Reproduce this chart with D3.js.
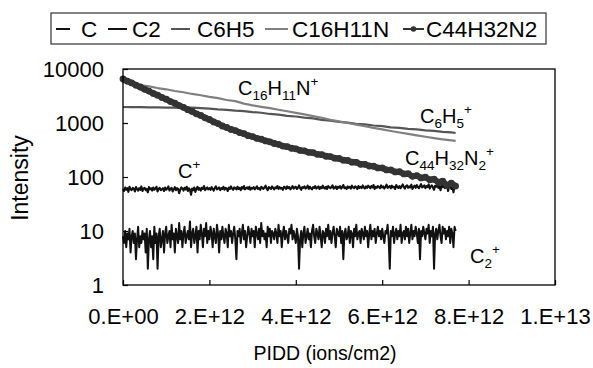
<!DOCTYPE html>
<html><head><meta charset="utf-8">
<script src="https://cdn.jsdelivr.net/npm/d3@7"></script>
<style>
body{margin:0;background:#fff}
text{font-family:Arial,"Liberation Sans",sans-serif;fill:#000}
</style>
</head><body><svg id="chart" width="593" height="368"></svg>
<script>
// ---------------- data ----------------
const seriesNames = ["C", "C2", "C6H5", "C16H11N", "C44H32N2"];

// noisy series sampled every 0.025E+12 ions/cm2, from 0 to 7.7E+12
const noisyStep = 2.5e10;
const cValues = [
 60,55,64,58,62,53,66,59,57,63,61,54,65,60,56,62,58,67,55,61,
 63,57,60,52,65,59,62,56,64,58,61,66,54,60,63,57,59,62,55,64,
 58,61,67,56,60,63,54,59,65,57,62,60,50,58,64,61,56,63,59,66,
 55,62,58,47,61,57,64,53,60,66,58,62,56,63,60,68,57,61,64,59,
 62,58,65,60,56,63,67,59,61,64,57,62,60,66,58,63,61,55,64,60,
 67,61,58,64,62,59,66,60,63,57,65,61,68,59,62,64,60,66,58,63,
 61,65,59,63,67,60,62,58,66,63,60,64,69,61,57,65,62,60,67,63,
 59,64,62,68,60,65,61,63,58,66,64,60,67,62,65,59,63,68,61,64,
 66,60,63,70,62,58,65,63,67,61,64,69,60,66,62,59,65,63,68,61,
 64,67,60,65,62,69,63,61,66,60,68,64,62,65,70,61,63,67,60,66,
 63,68,61,65,71,62,64,60,67,63,66,61,69,64,62,67,65,60,68,63,
 66,62,70,64,61,67,63,69,65,62,68,64,71,60,66,63,68,65,62,70,
 64,67,61,66,72,63,65,68,62,69,64,66,60,71,65,63,68,62,67,73,
 65,61,68,70,63,67,64,72,60,66,69,63,71,65,62,68,74,64,66,70,
 62,68,65,73,61,67,70,64,58,69,66,72,63,68,57,70,65,74,62,67,
 71,55,68,73,60,66,52,70,67
];
const c2Values = [
 8,6,10,5,9,7,11,4,8,10,6,9,3,7,12,5,8,6,10,7,
 9,4,11,2,7,10,5,8,3,12,6,9,2,8,11,5,7,10,4,9,
 12,6,8,10,5,13,7,9,4,11,8,6,14,7,10,5,9,12,6,8,
 10,7,15,5,9,11,6,8,12,4,10,7,13,9,5,11,8,14,6,10,
 7,12,9,5,11,8,6,13,9,4,10,7,12,8,6,11,9,5,13,8,
 10,6,9,12,7,3,10,8,11,6,9,13,7,10,5,8,12,9,6,11,
 8,10,5,12,9,7,11,6,14,8,10,7,9,5,12,8,11,6,10,9,
 7,11,9,6,13,8,10,5,9,12,7,10,8,6,11,9,13,7,10,8,
 6,11,8,2,7,10,5,9,12,6,8,11,7,9,5,10,13,8,6,11,
 9,7,12,8,5,10,9,6,11,8,13,7,10,6,9,12,8,5,11,9,
 8,12,6,10,3,9,11,7,8,12,6,10,9,5,11,8,13,7,9,10,
 6,11,9,7,12,8,10,5,9,13,7,10,8,11,6,9,12,8,10,7,
 11,8,6,10,9,13,7,2,10,8,12,6,9,11,7,10,8,13,6,9,
 10,7,12,8,11,6,9,13,7,10,8,12,9,6,11,3,10,8,12,9,
 7,11,9,13,6,10,8,12,2,9,11,7,10,13,8,6,12,9,11,7,
 10,8,12,6,11,9,5,12,10
];

// smoother series, dose in units of 1E+12 ions/cm2
const smoothDose = [0,0.2,0.4,0.6,0.8,1.0,1.2,1.4,1.6,1.8,
 2.0,2.2,2.4,2.6,2.8,3.0,3.2,3.4,3.6,3.8,
 4.0,4.2,4.4,4.6,4.8,5.0,5.2,5.4,5.6,5.8,
 6.0,6.2,6.4,6.6,6.8,7.0,7.2,7.4,7.6,7.7];
const c6h5Values = [
 1980,1960,1975,1940,1955,1925,1935,1905,1920,1885,
 1850,1790,1755,1690,1660,1595,1550,1470,1430,1360,
 1320,1255,1215,1145,1110,1050,1015,965,942,898,
 875,832,812,778,762,730,715,684,670,653
];
const c16h11nValues = [
 5750,5420,5050,4780,4440,4210,3920,3710,3450,3270,
 3040,2880,2670,2540,2290,2120,1990,1880,1760,1650,
 1540,1440,1340,1250,1150,1075,1000,935,870,815,
 760,712,668,628,590,556,525,498,475,465
];

// C44H32N2 sampled every 0.1E+12 ions/cm2
const c44Step = 1e11;
const c44h32n2Values = [
 6530,5960,5520,5010,4640,4210,3900,3530,3280,2970,
 2760,2490,2320,2100,1950,1765,1640,1480,1380,1245,
 1160,1045,975,880,826,760,724,665,633,582,
 560,520,501,466,449,417,402,374,364,341,
 333,311,305,286,282,263,259,242,239,223,
 221,205,203,188,187,172,172,160,158,147,
 147,135,135,124,125,114,115,103,106,96,
 99,89,91,80,84,70,77,68
];

const xTicks = [0, 2e12, 4e12, 6e12, 8e12, 1e13];
const xTickLabels = ["0.E+00","2.E+12","4.E+12","6.E+12","8.E+12","1.E+13"];
const yTicks = [1, 10, 100, 1000, 10000];
const yTickLabels = ["1","10","100","1000","10000"];

// ---------------- chart ----------------
const svg = d3.select("#chart");
const L = 123, R = 555, T = 69, B = 285;
const FONT = "Arial, 'Liberation Sans', sans-serif";

const x = d3.scaleLinear().domain([0, 1e13]).range([L, R]);
const y = d3.scaleLog().domain([1, 10000]).range([B, T]);

const series = [
  {name:"C", pts: cValues.map((v,i)=>[i*noisyStep, v]), color:"#111", w:2.1},
  {name:"C2", pts: c2Values.map((v,i)=>[i*noisyStep, v]), color:"#111", w:2},
  {name:"C6H5", pts: c6h5Values.map((v,i)=>[smoothDose[i]*1e12, v]), color:"#555", w:2.2},
  {name:"C16H11N", pts: c16h11nValues.map((v,i)=>[smoothDose[i]*1e12, v]), color:"#808080", w:2.2},
  {name:"C44H32N2", pts: c44h32n2Values.map((v,i)=>[i*c44Step, v]), color:"#333", w:6, marker:true}
];

const line = d3.line().x(d=>x(d[0])).y(d=>y(d[1]));
const plot = svg.append("g");
series.forEach(s=>{
  plot.append("path").datum(s.pts).attr("d", line)
    .attr("fill","none").attr("stroke", s.color).attr("stroke-width", s.w)
    .attr("stroke-linejoin","round");
  if (s.marker) {
    plot.selectAll(null).data(s.pts).enter().append("circle")
      .attr("cx", d=>x(d[0])).attr("cy", d=>y(d[1])).attr("r", 3.4)
      .attr("fill", s.color);
  }
});

// frame
svg.append("rect").attr("x",L).attr("y",T).attr("width",R-L).attr("height",B-T)
  .attr("fill","none").attr("stroke","#000").attr("stroke-width",1.3);

// axes
const yAxis = d3.axisLeft(y).tickValues(yTicks).tickSize(-5).tickPadding(19)
  .tickFormat((d,i)=>yTickLabels[i]);
const gy = svg.append("g").attr("transform",`translate(${L},0)`).call(yAxis);
gy.select(".domain").remove();
gy.selectAll("text").attr("font-size",22).attr("font-family",FONT);
gy.selectAll("line").attr("stroke","#000").attr("stroke-width",1.2);

const xAxis = d3.axisBottom(x).tickValues(xTicks).tickSize(-5).tickPadding(23)
  .tickFormat((d,i)=>xTickLabels[i]);
const gx = svg.append("g").attr("transform",`translate(0,${B})`).call(xAxis);
gx.select(".domain").remove();
gx.selectAll("text").attr("font-size",22).attr("font-family",FONT);
gx.selectAll("line").attr("stroke","#000").attr("stroke-width",1.2);

// axis titles
svg.append("text").attr("x",325).attr("y",360).attr("text-anchor","middle")
  .attr("font-size",19.5).text("PIDD (ions/cm2)");
svg.append("text").attr("transform","translate(28,178) rotate(-90)").attr("text-anchor","middle")
  .attr("font-size",23).text("Intensity");

// legend
svg.append("rect").attr("x",51).attr("y",13).attr("width",495).attr("height",31)
  .attr("fill","#fff").attr("stroke","#333").attr("stroke-width",1.2);
const legendLines = [[56,70],[108,127],[171,190],[265,288],[403,424]];
const legendText = [81,132,197,292,426];
series.forEach((s,i)=>{
  svg.append("line").attr("x1",legendLines[i][0]).attr("x2",legendLines[i][1])
    .attr("y1",29).attr("y2",29).attr("stroke",s.color).attr("stroke-width",2);
  if (s.marker) svg.append("circle").attr("cx",(legendLines[i][0]+legendLines[i][1])/2)
    .attr("cy",29).attr("r",2.8).attr("fill",s.color);
  svg.append("text").attr("x",legendText[i]).attr("y",37).attr("font-size",22.5).text(s.name);
});

// annotations with sub/superscripts
function label(xp, yp, parts) {
  const t = svg.append("text").attr("x",xp).attr("y",yp).attr("font-size",20);
  let shift = 0;
  parts.forEach(([str, kind])=>{
    const ts = t.append("tspan").text(str);
    const target = kind==="sub"?5:(kind==="sup"?-9:0);
    if (kind) ts.attr("font-size",13.5);
    ts.attr("dy", target - shift);
    shift = target;
  });
}
label(238, 95, [["C"],["16","sub"],["H"],["11","sub"],["N"],["+","sup"]]);
label(420, 123, [["C"],["6","sub"],["H"],["5","sub"],["+","sup"]]);
label(405, 165, [["C"],["44","sub"],["H"],["32","sub"],["N"],["2","sub"],["+","sup"]]);
label(178, 178, [["C"],["+","sup"]]);
label(470, 263, [["C"],["2","sub"],["+","sup"]]);
</script></body></html>
